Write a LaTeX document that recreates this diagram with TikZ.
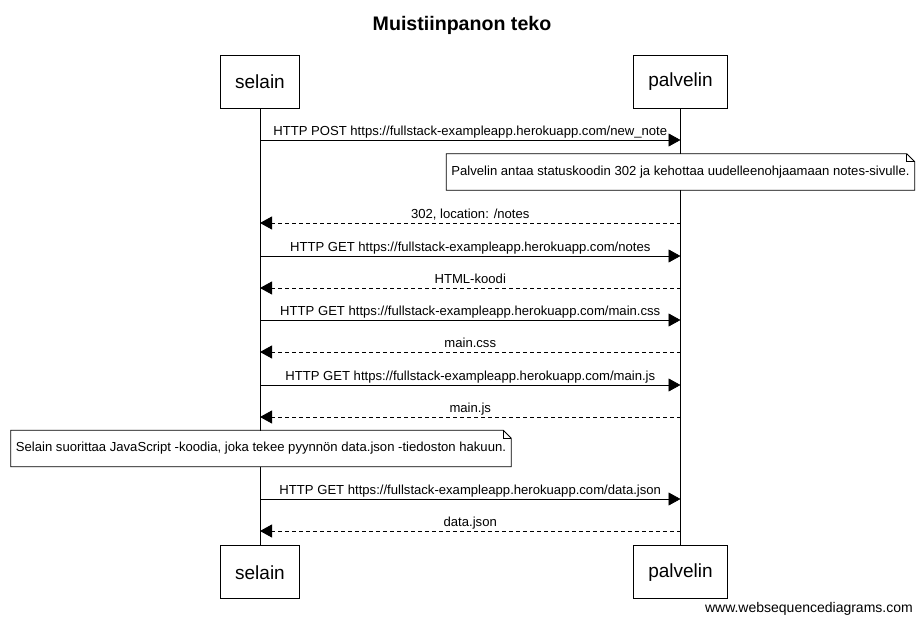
\documentclass[tikz,border=0pt]{standalone}
\usepackage{fontspec}
\setmainfont{Liberation Sans}
\usetikzlibrary{arrows.meta,positioning}
\tikzset{
  actor/.style={draw, line width=0.8pt, font=\fontsize{19}{22}\selectfont, minimum height=53pt, inner xsep=15pt},
  msg/.style={line width=0.8pt, -{Triangle[length=12pt,width=13pt]}},
  reply/.style={msg, dash pattern=on 4pt off 3pt},
  lbl/.style={font=\fontsize{13.1}{15}\selectfont, anchor=base, yshift=4.5pt, inner sep=0pt},
  note/.style={fill=white, font=\fontsize{13.1}{15}\selectfont, minimum height=36pt, inner xsep=5pt},
}
\newcommand{\notefold}[1]{%
  \draw[line width=0.8pt] (#1.north west) -- ([xshift=-8pt]#1.north east)
    -- ([yshift=-8pt]#1.north east) -- (#1.south east) -- (#1.south west) -- cycle;
  \draw[line width=0.8pt] ([xshift=-8pt]#1.north east) |- ([yshift=-8pt]#1.north east);}

\begin{document}
\begin{tikzpicture}[x=1pt, y=-1pt]
  \useasboundingbox (0,0) rectangle (922,623);
  \node[font=\bfseries\fontsize{19.6}{22}\selectfont, anchor=base] (title) at (462,31) {Muistiinpanon teko};
  % osapuolet
  \node[actor] (selain) at (260,81.5) {selain};
  \node[actor] (palvelin) at (680.5,81.5) {palvelin};
  \node[actor, below=437pt of selain] (selainB) {selain};
  \node[actor, below=437pt of palvelin] (palvelinB) {palvelin};
  \draw[line width=0.8pt] (selain.south) -- (selainB.north);
  \draw[line width=0.8pt] (palvelin.south) -- (palvelinB.north);
  % viestit
  \draw[msg] (selain |- 0,140) -- (palvelin |- 0,140)
    node[lbl, midway] {HTTP POST https://fullstack-exampleapp.herokuapp.com/new\_note};
  \node[note] (note1) at (palvelin |- 0,172) {Palvelin antaa statuskoodin 302 ja kehottaa uudelleenohjaamaan notes-sivulle.};
  \notefold{note1}
  \draw[reply] (palvelin |- 0,223) -- (selain |- 0,223) node[lbl, midway] {302, location: /notes};
  \draw[msg] (selain |- 0,256) -- (palvelin |- 0,256)
    node[lbl, midway] {HTTP GET https://fullstack-exampleapp.herokuapp.com/notes};
  \draw[reply] (palvelin |- 0,288) -- (selain |- 0,288) node[lbl, midway] {HTML-koodi};
  \draw[msg] (selain |- 0,320) -- (palvelin |- 0,320)
    node[lbl, midway] {HTTP GET https://fullstack-exampleapp.herokuapp.com/main.css};
  \draw[reply] (palvelin |- 0,352) -- (selain |- 0,352) node[lbl, midway] {main.css};
  \draw[msg] (selain |- 0,385) -- (palvelin |- 0,385)
    node[lbl, midway] {HTTP GET https://fullstack-exampleapp.herokuapp.com/main.js};
  \draw[reply] (palvelin |- 0,417) -- (selain |- 0,417) node[lbl, midway] {main.js};
  \node[note] (note2) at (261,448.5) {Selain suorittaa JavaScript -koodia, joka tekee pyynnön data.json -tiedoston hakuun.};
  \notefold{note2}
  \draw[msg] (selain |- 0,499) -- (palvelin |- 0,499)
    node[lbl, midway] {HTTP GET https://fullstack-exampleapp.herokuapp.com/data.json};
  \draw[reply] (palvelin |- 0,531) -- (selain |- 0,531) node[lbl, midway] {data.json};
  \node[font=\fontsize{14}{16}\selectfont, anchor=base east, inner sep=0pt] (credit) at (913,612) {www.websequencediagrams.com};
\end{tikzpicture}
\end{document}
